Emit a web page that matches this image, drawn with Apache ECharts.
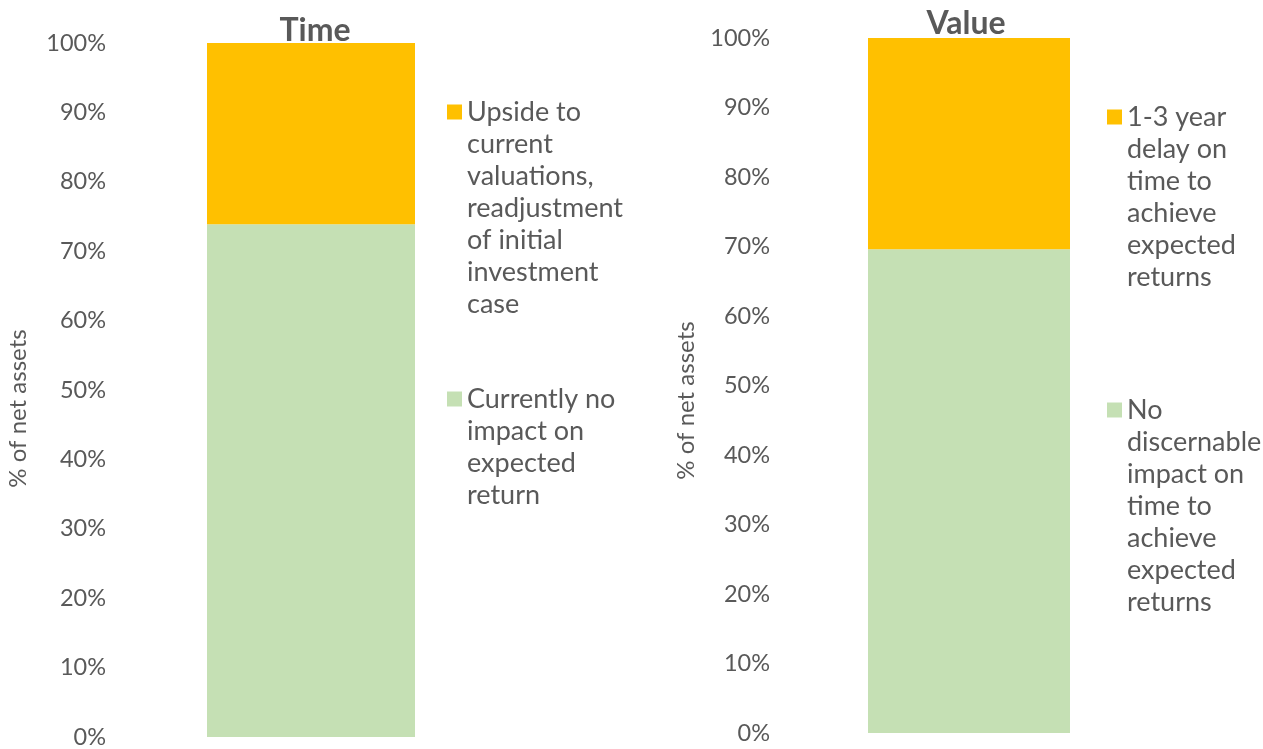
<!DOCTYPE html>
<html>
<head>
<meta charset="utf-8">
<script src="https://cdn.jsdelivr.net/npm/echarts@6/dist/echarts.min.js"></script>
<style>
  html, body { margin: 0; padding: 0; background: #fff; }
  #chart { width: 1263px; height: 749px; }
</style>
</head>
<body>
<div id="chart"></div>
<script>
// ---- Data ----
const titles = ['Time', 'Value'];
const categories = ['Portfolio'];
const timeSeriesNames = [
  'Currently no\nimpact on\nexpected\nreturn',
  'Upside to\ncurrent\nvaluations,\nreadjustment\nof initial\ninvestment\ncase'
];
const timeNoImpact = [73.9];
const timeUpside = [26.1];
const valueSeriesNames = [
  'No\ndiscernable\nimpact on\ntime to\nachieve\nexpected\nreturns',
  '1-3 year\ndelay on\ntime to\nachieve\nexpected\nreturns'
];
const valueNoImpact = [69.6];
const valueDelay = [30.4];
const yTicks = { min: 0, max: 100, interval: 10 };
const yAxisName = '% of net assets';

// ---- Styles ----
const TEXT = '#595959';
const FONT = 'Lato';
const GREEN = '#C5E0B4';
const ORANGE = '#FFC000';
const LH = 32;

function lineCount(s) { return s.split('\n').length; }
function legendFor(name, left, firstLineY) {
  const n = lineCount(name);
  return {
    show: true,
    data: [name],
    orient: 'vertical',
    left: left,
    top: firstLineY - (n - 0.5) * LH,
    padding: 0,
    itemWidth: 15,
    itemHeight: 15,
    icon: 'rect',
    selectedMode: false,
    formatter: function (nm) { return '\n'.repeat(lineCount(nm) - 1) + nm; },
    textStyle: { color: TEXT, fontFamily: FONT, fontSize: 27, lineHeight: LH }
  };
}

function yAxisFor(gridIndex, nameGap, shift, margin) {
  return {
    type: 'value',
    gridIndex: gridIndex,
    min: yTicks.min, max: yTicks.max, interval: yTicks.interval,
    name: yAxisName,
    nameLocation: 'middle',
    nameGap: nameGap,
    nameTextStyle: { color: TEXT, fontFamily: FONT, fontSize: 24, padding: [0, shift, 0, 0] },
    axisLine: { show: false },
    axisTick: { show: false },
    splitLine: { show: false },
    axisLabel: { color: TEXT, fontFamily: FONT, fontSize: 23.5, margin: margin, formatter: '{value}%' }
  };
}

const chart = echarts.init(document.getElementById('chart'), null, { renderer: 'canvas' });
chart.setOption({
  animation: false,
  backgroundColor: '#fff',
  title: [
    { text: titles[0], left: 310, textAlign: 'center', top: 10,
      textStyle: { color: TEXT, fontFamily: FONT, fontSize: 32, fontWeight: 'bold' } },
    { text: titles[1], left: 961, textAlign: 'center', top: 3,
      textStyle: { color: TEXT, fontFamily: FONT, fontSize: 32, fontWeight: 'bold' } }
  ],
  legend: [
    legendFor(timeSeriesNames[1], 447, 112),
    legendFor(timeSeriesNames[0], 447, 399),
    legendFor(valueSeriesNames[1], 1107, 117),
    legendFor(valueSeriesNames[0], 1107, 410)
  ],
  grid: [
    { left: 117, width: 388, top: 43, bottom: 9, containLabel: false },
    { left: 780, width: 378, top: 38, bottom: 16, containLabel: false }
  ],
  xAxis: [
    { type: 'category', gridIndex: 0, data: categories, show: false },
    { type: 'category', gridIndex: 1, data: categories, show: false }
  ],
  yAxis: [
    yAxisFor(0, 87, 37, 11),
    yAxisFor(1, 82, 30, 10)
  ],
  series: [
    { name: timeSeriesNames[0], type: 'bar', stack: 't', xAxisIndex: 0, yAxisIndex: 0,
      data: timeNoImpact, barWidth: 208, itemStyle: { color: GREEN } },
    { name: timeSeriesNames[1], type: 'bar', stack: 't', xAxisIndex: 0, yAxisIndex: 0,
      data: timeUpside, barWidth: 208, itemStyle: { color: ORANGE } },
    { name: valueSeriesNames[0], type: 'bar', stack: 'v', xAxisIndex: 1, yAxisIndex: 1,
      data: valueNoImpact, barWidth: 202, itemStyle: { color: GREEN } },
    { name: valueSeriesNames[1], type: 'bar', stack: 'v', xAxisIndex: 1, yAxisIndex: 1,
      data: valueDelay, barWidth: 202, itemStyle: { color: ORANGE } }
  ]
});
</script>
</body>
</html>
